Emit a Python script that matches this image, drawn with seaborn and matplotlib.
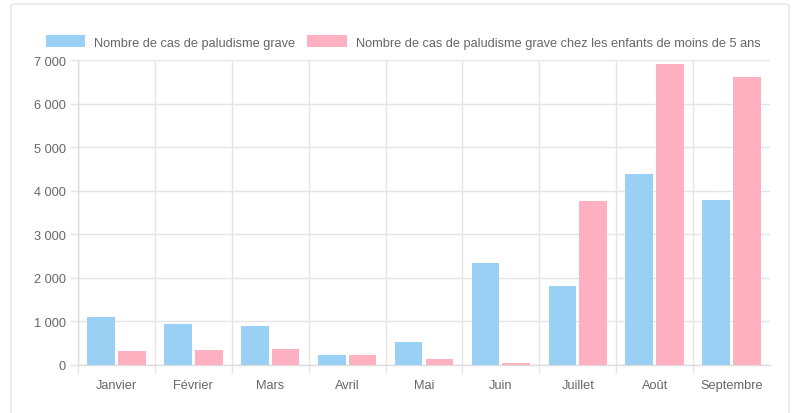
import pandas as pd
import numpy as np
import matplotlib
matplotlib.use("Agg")
import matplotlib.pyplot as plt
import seaborn as sns
from matplotlib.patches import FancyBboxPatch
from matplotlib.ticker import FixedLocator, FuncFormatter

# Données
mois = ["Janvier", "Février", "Mars", "Avril", "Mai", "Juin", "Juillet", "Août", "Septembre"]
cas_grave = [1094, 949, 903, 221, 520, 2345, 1823, 4375, 3777]
cas_grave_enfants = [313, 352, 368, 221, 138, 46, 3761, 6903, 6618]
series = ["Nombre de cas de paludisme grave",
          "Nombre de cas de paludisme grave chez les enfants de moins de 5 ans"]
couleurs = ["#9BD0F5", "#FFB1C1"]

df = pd.DataFrame({
    "Mois": mois * 2,
    "Valeur": cas_grave + cas_grave_enfants,
    "Serie": [series[0]] * len(mois) + [series[1]] * len(mois),
})

sns.set_theme(style="white")
plt.rcParams["font.family"] = ["Liberation Sans", "DejaVu Sans"]

fs = 9.2
fig = plt.figure(figsize=(7.95, 4.14), dpi=100)
ax = fig.add_axes([78 / 795, 48 / 414, 692 / 795, 305 / 414])

# Cadre de la carte
card = FancyBboxPatch((11 / 795, -0.05), 778 / 795, 1.05 - 5 / 414,
                      boxstyle="round,pad=0,rounding_size=0.006",
                      transform=fig.transFigure, facecolor="white",
                      edgecolor="#e6e6e6", linewidth=1.0, zorder=-10)
fig.patches.append(card)

sns.barplot(data=df, x="Mois", y="Valeur", hue="Serie", order=mois,
            hue_order=series, palette=couleurs, width=0.8, gap=0.1,
            saturation=1, linewidth=0, ax=ax, legend=False, zorder=3)

ax.set_xlim(-0.5, len(mois) - 0.5)
ax.set_ylim(0, 7000)
ax.set_xlabel("")
ax.set_ylabel("")

grid_col = "#e5e5e5"
ax.yaxis.set_major_locator(FixedLocator(np.arange(0, 7001, 1000)))
ax.yaxis.set_major_formatter(FuncFormatter(lambda v, p: f"{int(v):,}".replace(",", " ")))
ax.xaxis.set_minor_locator(FixedLocator(np.arange(-0.5, len(mois) - 0.5, 1.0)))
ax.grid(axis="y", which="major", color=grid_col, linewidth=1, zorder=0)
ax.grid(axis="x", which="minor", color=grid_col, linewidth=1, zorder=0)
ax.tick_params(axis="y", which="major", length=6, width=1, color=grid_col,
               labelsize=fs, labelcolor="#666666", pad=3, left=True)
ax.tick_params(axis="x", which="major", length=0, labelsize=fs,
               labelcolor="#666666", pad=10)
ax.tick_params(axis="x", which="minor", length=6, width=1, color=grid_col, bottom=True)

for s in ["top", "right"]:
    ax.spines[s].set_visible(False)
for s in ["left", "bottom"]:
    ax.spines[s].set_color("#dddddd")
    ax.spines[s].set_linewidth(1)

# Légende en haut
handles = [plt.Rectangle((0, 0), 1, 1, facecolor=c, edgecolor="none") for c in couleurs]
fig.legend(handles, series, loc="center", bbox_to_anchor=(403 / 795, 1 - 43 / 414),
           ncol=2, frameon=False, fontsize=fs, labelcolor="#666666",
           handlelength=3.1, handleheight=1.0, handletextpad=0.7,
           columnspacing=0.9, borderpad=0)

fig.savefig("out.png", dpi=100)
